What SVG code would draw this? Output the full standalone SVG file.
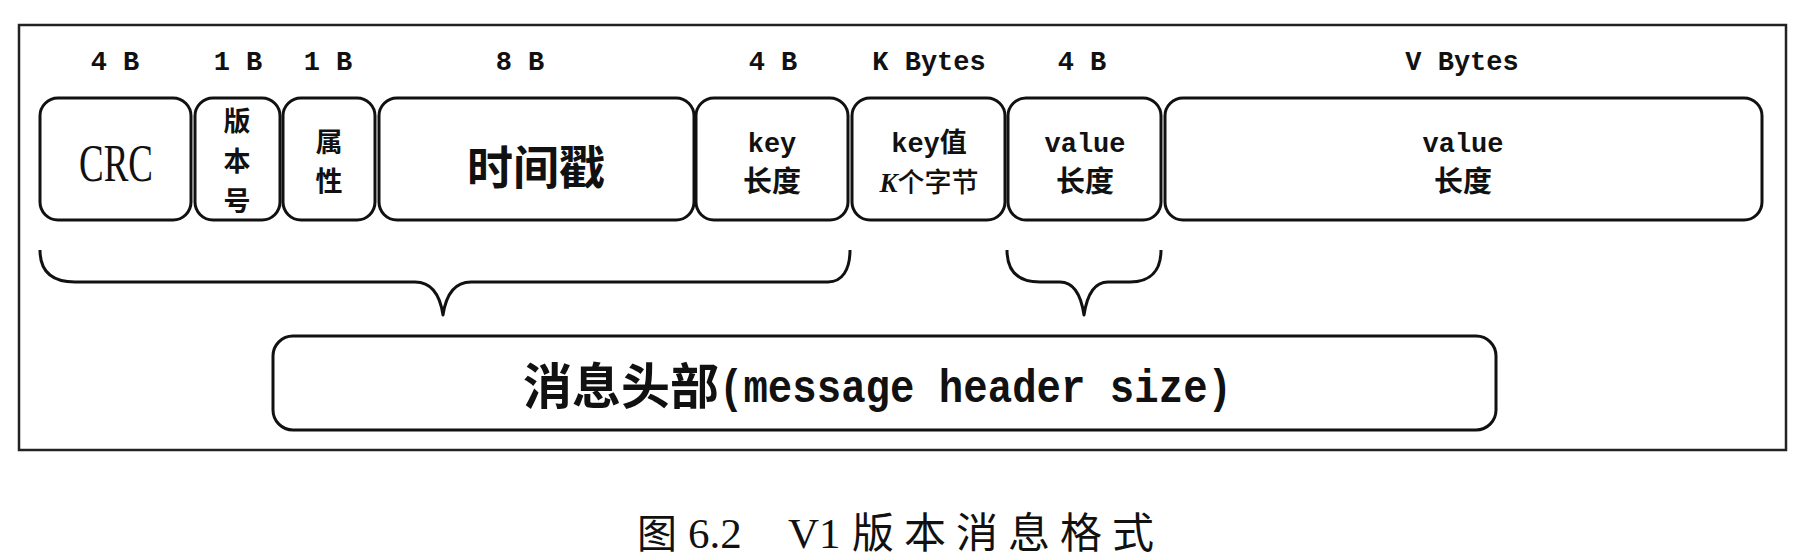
<svg xmlns="http://www.w3.org/2000/svg" width="1802" height="560" viewBox="0 0 1802 560">
<style>
.box{fill:#fff;stroke:#111;stroke-width:3}
.frame{fill:none;stroke:#222;stroke-width:2.5}
.brace{fill:none;stroke:#111;stroke-width:3;stroke-linejoin:round}
.lbl{font-family:"Liberation Mono","DejaVu Sans Mono",monospace;font-weight:bold;font-size:27px;fill:#111;text-anchor:middle}
.cjk{font-family:"Noto Sans CJK SC",sans-serif;font-weight:bold;fill:#111;text-anchor:middle}
.mono{font-family:"Liberation Mono",monospace;font-weight:bold;fill:#111;text-anchor:middle}
</style>
<rect width="1802" height="560" fill="#fff"/>
<rect class="frame" x="19" y="25" width="1767" height="425"/>
<g id="labels">
<text class="lbl" x="115" y="70">4 B</text>
<text class="lbl" x="238" y="70">1 B</text>
<text class="lbl" x="328" y="70">1 B</text>
<text class="lbl" x="520" y="70">8 B</text>
<text class="lbl" x="773" y="70">4 B</text>
<text class="lbl" x="929" y="70">K Bytes</text>
<text class="lbl" x="1082" y="70">4 B</text>
<text class="lbl" x="1462" y="70">V Bytes</text>
</g>
<g id="crc">
<rect class="box" x="40" y="98" width="151" height="122" rx="18"/>
<text x="116" y="181" font-family="Liberation Serif,serif" font-size="52" fill="#111" text-anchor="middle" textLength="74" lengthAdjust="spacingAndGlyphs">CRC</text>
</g>
<g id="version">
<rect class="box" x="195" y="98" width="85" height="122" rx="18"/>
<text class="cjk" font-size="27"><tspan x="237" y="131">版</tspan><tspan x="237" y="171">本</tspan><tspan x="237" y="211">号</tspan></text>
</g>
<g id="attr">
<rect class="box" x="283" y="98" width="92" height="122" rx="18"/>
<text class="cjk" font-size="27"><tspan x="329" y="152">属</tspan><tspan x="329" y="191">性</tspan></text>
</g>
<g id="timestamp">
<rect class="box" x="379" y="98" width="315" height="122" rx="18"/>
<text class="cjk" x="536" y="184" font-size="46">时间戳</text>
</g>
<g id="keylen">
<rect class="box" x="696" y="98" width="152" height="122" rx="18"/>
<text class="mono" x="772" y="152" font-size="27">key</text>
<text class="cjk" x="772" y="192" font-size="29" font-weight="500">长度</text>
</g>
<g id="keyval">
<rect class="box" x="852" y="98" width="153" height="122" rx="18"/>
<text x="929" y="152" text-anchor="middle" fill="#111"><tspan font-family="Liberation Mono,monospace" font-weight="bold" font-size="27">key</tspan><tspan font-family="Noto Sans CJK SC,sans-serif" font-weight="bold" font-size="27">值</tspan></text>
<text x="929" y="192" text-anchor="middle" fill="#111"><tspan font-family="Liberation Serif,serif" font-style="italic" font-weight="bold" font-size="27">K</tspan><tspan font-family="Noto Sans CJK SC,sans-serif" font-weight="500" font-size="27">个字节</tspan></text>
</g>
<g id="valuelen">
<rect class="box" x="1008" y="98" width="153" height="122" rx="18"/>
<text class="mono" x="1085" y="152" font-size="27">value</text>
<text class="cjk" x="1085" y="192" font-size="29" font-weight="500">长度</text>
</g>
<g id="value">
<rect class="box" x="1165" y="98" width="597" height="122" rx="18"/>
<text class="mono" x="1463" y="152" font-size="27">value</text>
<text class="cjk" x="1463" y="192" font-size="29" font-weight="500">长度</text>
</g>
<g id="connectors">
<path class="brace" d="M40 250 C40 270 50 282 75 282 L415 282 C432 282 440 295 443 315 C446 295 454 282 471 282 L828 282 C842 282 850 270 850 250"/>
<path class="brace" d="M1007 250 C1007 270 1017 282 1040 282 L1060 282 C1074 282 1081 295 1084 315 C1087 295 1094 282 1108 282 L1130 282 C1151 282 1161 270 1161 250"/>
</g>
<g id="header">
<rect class="box" x="273" y="336" width="1223" height="94" rx="20"/>
<text class="cjk" x="523" y="404" font-size="49" font-weight="500" style="text-anchor:start">消息头部</text>
<text class="mono" x="719" y="402" font-size="46" style="text-anchor:start" textLength="513" lengthAdjust="spacingAndGlyphs">(message header size)</text>
</g>
<g id="caption">
<text x="637" y="548" font-size="40" fill="#111" font-family="Noto Sans CJK SC,sans-serif">图</text>
<text x="688" y="548" font-size="43" fill="#111" font-family="Liberation Serif,serif">6.2</text>
<text x="788" y="548" font-size="43" fill="#111" font-family="Liberation Serif,serif">V1</text>
<text x="852" y="548" font-size="42" fill="#111" font-family="Noto Sans CJK SC,sans-serif" letter-spacing="10">版本消息格式</text>
</g>
</svg>
